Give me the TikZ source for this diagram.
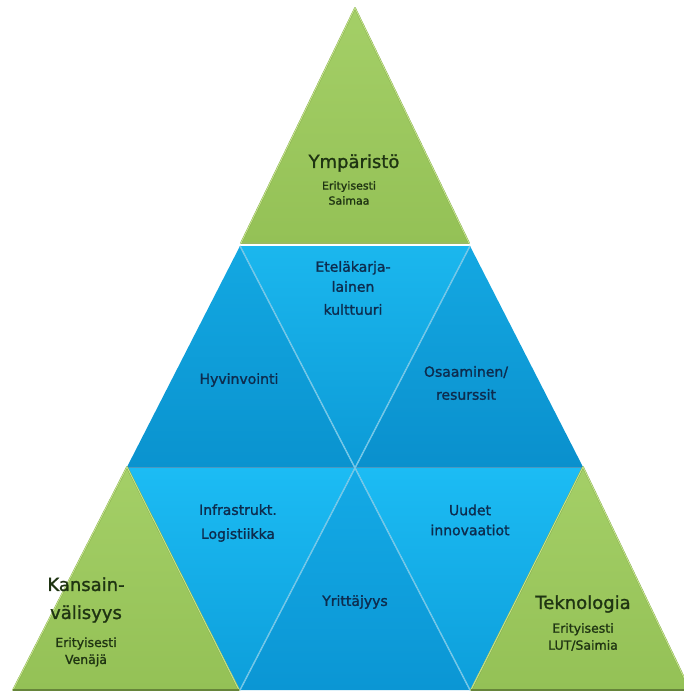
\documentclass[tikz,border=0pt]{standalone}
\usepackage{fontspec}
\setmainfont{DejaVu Sans}[BoldFont=DejaVu Sans, BoldFeatures={FakeBold=1.3}]
\definecolor{gfill}{HTML}{9CC95E}
\definecolor{gfilltop}{HTML}{A4CF67}
\definecolor{gfillbot}{HTML}{94C156}
\definecolor{gborder}{HTML}{7FA648}
\definecolor{ghigh}{HTML}{C6E58C}
\definecolor{gtext}{HTML}{1F3412}
\definecolor{btext}{HTML}{0D2C4E}
\definecolor{bsep}{HTML}{74D4F6}
\definecolor{bline}{HTML}{4A98C0}
\definecolor{hyvtop}{HTML}{13A8E2}
\definecolor{hyvbot}{HTML}{0A93CF}
\definecolor{ettop}{HTML}{1BB7EE}
\definecolor{etbot}{HTML}{0C9AD6}
\definecolor{osatop}{HTML}{14A8E2}
\definecolor{osabot}{HTML}{0A90CD}
\definecolor{lowtop}{HTML}{1CBCF4}
\definecolor{lowbot}{HTML}{0D9EDA}
\definecolor{yrtop}{HTML}{14AAE6}
\definecolor{yrbot}{HTML}{0B96D4}
\tikzset{
  gtitle/.style={text=gtext, font=\bfseries\fontsize{18}{26}\selectfont, align=center, inner sep=0pt},
  gsub/.style={text=gtext, font=\bfseries\fontsize{12.5}{17}\selectfont, align=center, inner sep=0pt},
  gsubtop/.style={text=gtext, font=\bfseries\fontsize{11}{15}\selectfont, align=center, inner sep=0pt},
  btxt/.style={text=btext, font=\bfseries\fontsize{14}{20}\selectfont, align=center, inner sep=0pt},
  gedge/.style={draw=gborder, line width=1.6pt, line join=round},
  ghl/.style={draw=ghigh, line width=0.9pt, line join=round},
  sepline/.style={draw=bsep, line width=1.4pt},
}
\begin{document}
\begin{tikzpicture}[x=1pt,y=-1pt]
\useasboundingbox (0,0) rectangle (683,695);
% key points
\coordinate (A) at (355,8);
\coordinate (GTL) at (241,243);
\coordinate (GTR) at (469,243);
\coordinate (TL) at (240,246);
\coordinate (TR) at (470,246);
\coordinate (L) at (127,467);
\coordinate (R) at (583,467);
\coordinate (C) at (355,467);
\coordinate (BL) at (240,690);
\coordinate (BR) at (470,690);
\coordinate (GLl) at (13,690);
\coordinate (GLr) at (239,690);
\coordinate (GRl) at (471,690);
\coordinate (GRr) at (690,690);
% blue triangles, middle row
\shade[top color=hyvtop, bottom color=hyvbot] (TL) -- (L) -- (C) -- cycle;
\shade[top color=ettop, bottom color=etbot] (TL) -- (TR) -- (C) -- cycle;
\shade[top color=osatop, bottom color=osabot] (TR) -- (R) -- (C) -- cycle;
% blue triangles, bottom row
\shade[top color=lowtop, bottom color=lowbot] (L) -- (C) -- (BL) -- cycle;
\shade[top color=yrtop, bottom color=yrbot] (C) -- (BL) -- (BR) -- cycle;
\shade[top color=lowtop, bottom color=lowbot] (C) -- (R) -- (BR) -- cycle;
% separators
\draw[bline, line width=0.8pt] (L) -- (R);
\draw[sepline] (TL) -- (BR);
\draw[sepline] (TR) -- (BL);
\draw[draw=bline!70, line width=0.4pt, shift={(2,0)}] (TL) -- (BR);
\draw[draw=bline!70, line width=0.4pt, shift={(-2,0)}] (TR) -- (BL);
% green triangles
\shade[top color=gfilltop, bottom color=gfillbot] (A) -- (GTL) -- (GTR) -- cycle;
\draw[gedge] (A) -- (GTL) -- (GTR) -- cycle;
\draw[ghl, shift={(355,165)}, scale=0.975, shift={(-355,-165)}] (A) -- (GTL) -- (GTR) -- cycle;
\shade[top color=gfilltop, bottom color=gfillbot] (L) -- (GLl) -- (GLr) -- cycle;
\draw[gedge] (L) -- (GLl) -- (GLr) -- cycle;
\draw[ghl, shift={(126,616)}, scale=0.965, shift={(-126,-616)}] (L) -- (GLl) -- (GLr) -- cycle;
\shade[top color=gfilltop, bottom color=gfillbot] (R) -- (GRl) -- (GRr) -- cycle;
\draw[gedge] (R) -- (GRl) -- (GRr) -- cycle;
\draw[ghl, shift={(581,616)}, scale=0.965, shift={(-581,-616)}] (R) -- (GRl) -- (GRr) -- cycle;
\draw[draw=gborder!80!black, line width=1.5pt] (GLl) -- (GLr);
\draw[draw=gborder!80!black, line width=1.5pt] (GRl) -- (GRr);
% texts
\node[gtitle] (ymp) at (354,163) {Ympäristö};
\node[gsubtop] (ympsub) at (349,193) {Erityisesti\\Saimaa};
\node[btxt] (etela) at (353,288) {Eteläkarja-\\lainen\\[3pt]kulttuuri};
\node[btxt] (hyv) at (239,380) {Hyvinvointi};
\node[btxt] (osa) at (466,383) {Osaaminen/\\[3pt]resurssit};
\node[btxt] (infra) at (238,523) {Infrastrukt.\\[4pt]Logistiikka};
\node[btxt] (uudet) at (470,520) {Uudet\\innovaatiot};
\node[btxt] (yrit) at (355,602) {Yrittäjyys};
\node[gtitle] (kans) at (86,600) {Kansain-\\[2pt]välisyys};
\node[gsub] (kanssub) at (86,652) {Erityisesti\\Venäjä};
\node[gtitle] (tekno) at (583,604) {Teknologia};
\node[gsub] (teknosub) at (583,637) {Erityisesti\\LUT/Saimia};
\end{tikzpicture}
\end{document}
